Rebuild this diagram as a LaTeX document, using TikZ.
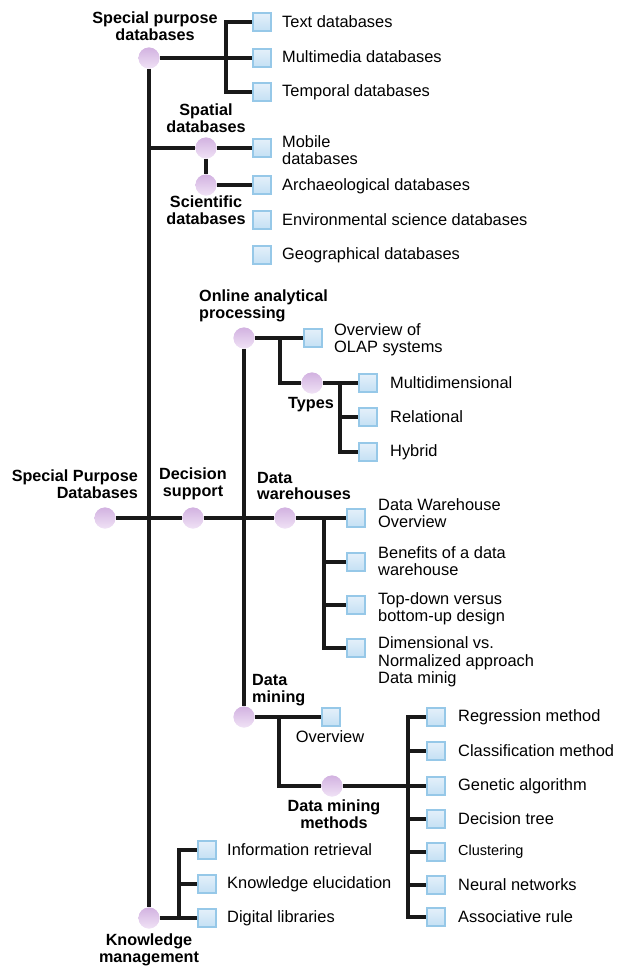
\documentclass[tikz,border=0pt]{standalone}
\usepackage{fontspec}
\setmainfont{Liberation Sans}
\begin{document}
\begin{tikzpicture}[x=1pt,y=-1pt,
  wire/.style={line width=3.2pt,black!90},
  hub/.style={circle,minimum size=21pt,inner sep=0pt,
    top color={rgb,255:red,210;green,178;blue,224},
    bottom color={rgb,255:red,240;green,226;blue,246}},
  leaf/.style={rectangle,minimum size=18pt,inner sep=0pt,
    draw={rgb,255:red,150;green,200;blue,232},line width=1.6pt,
    top color={rgb,255:red,228;green,240;blue,250},
    bottom color={rgb,255:red,196;green,224;blue,244}},
  txt/.style={anchor=west,inner sep=0pt,align=left,
    font=\fontsize{16.4}{17.3}\selectfont},
  lbl/.style={inner sep=0pt,align=center,
    font=\fontsize{16.2}{16.5}\selectfont\bfseries},
]
\useasboundingbox (0,0) rectangle (623,970);

% ---- hubs ----
\node[hub] (root) at (105,518) {};
\node[hub] (dec)  at (193,518) {};
\node[hub] (dw)   at (285,518) {};
\node[hub] (sp)   at (149,58) {};
\node[hub] (spa)  at (206,148) {};
\node[hub] (sci)  at (206,185) {};
\node[hub] (olap) at (244,338) {};
\node[hub] (typ)  at (312,383) {};
\node[hub] (dm)   at (244,717) {};
\node[hub] (dmm)  at (332,786) {};
\node[hub] (km)   at (149,918) {};

% ---- junction points ----
\coordinate (spT) at (226,22);
\coordinate (spB) at (226,92);
\coordinate (jSp) at (149,148);
\coordinate (olT) at (280,338);
\coordinate (olB) at (280,383);
\coordinate (tyT) at (340,383);
\coordinate (tyB) at (340,452);
\coordinate (dwT) at (324,518);
\coordinate (dwB) at (324,648);
\coordinate (dmT) at (279,717);
\coordinate (dmB) at (279,786);
\coordinate (mT) at (408,717);
\coordinate (mB) at (408,917);
\coordinate (kT) at (179,850);
\coordinate (kB) at (179,918);

% ---- leaves ----
\node[leaf] (s1) at (262,22) {};
\node[leaf] (s2) at (262,58) {};
\node[leaf] (s3) at (262,92) {};
\node[leaf] (s4) at (262,148) {};
\node[leaf] (s5) at (262,185) {};
\node[leaf] (s6) at (262,220) {};
\node[leaf] (s7) at (262,255) {};
\node[leaf] (o1) at (313,338) {};
\node[leaf] (t1) at (368,383) {};
\node[leaf] (t2) at (368,417) {};
\node[leaf] (t3) at (368,452) {};
\node[leaf] (w1) at (356,518) {};
\node[leaf] (w2) at (356,562) {};
\node[leaf] (w3) at (356,605) {};
\node[leaf] (w4) at (356,648) {};
\node[leaf] (d1) at (331,717) {};
\node[leaf] (m1) at (436,717) {};
\node[leaf] (m2) at (436,751) {};
\node[leaf] (m3) at (436,786) {};
\node[leaf] (m4) at (436,819) {};
\node[leaf] (m5) at (436,852) {};
\node[leaf] (m6) at (436,885) {};
\node[leaf] (m7) at (436,917) {};
\node[leaf] (k1) at (207,850) {};
\node[leaf] (k2) at (207,884) {};
\node[leaf] (k3) at (207,918) {};

% ---- connectors ----
\draw[wire] (root) -- (dec) -- (dw) -- (dwT);
\draw[wire] (sp) -- (km);
\draw[wire] (olap) -- (dm);
\draw[wire] (sp) -- (s2);
\draw[wire] (s1) -- (spT) -- (spB) -- (s3);
\draw[wire] (jSp) -- (spa) -- (s4);
\draw[wire] (spa) -- (sci);
\draw[wire] (sci) -- (s5);
\draw[wire] (olap) -- (o1);
\draw[wire] (olT) -- (olB) -- (typ) -- (t1);
\draw[wire] (tyT) -- (tyB) -- (t3);
\draw[wire] (tyT |- t2) -- (t2);
\draw[wire] (dwT) -- (w1);
\draw[wire] (dwT) -- (dwB) -- (w4);
\draw[wire] (dwT |- w2) -- (w2);
\draw[wire] (dwT |- w3) -- (w3);
\draw[wire] (dm) -- (d1);
\draw[wire] (dmT) -- (dmB) -- (dmm) -- (m3);
\draw[wire] (m1) -- (mT) -- (mB) -- (m7);
\foreach \m in {m2,m4,m5,m6} \draw[wire] (mT |- \m) -- (\m);
\draw[wire] (km) -- (k3);
\draw[wire] (k1) -- (kT) -- (kB);
\draw[wire] (kT |- k2) -- (k2);

% hubs and leaves drawn again on top of the wires
\foreach \h in {root,dec,dw,sp,spa,sci,olap,typ,dm,dmm,km}
  \node[hub] at (\h) {};
\foreach \l in {s1,s2,s3,s4,s5,s6,s7,o1,t1,t2,t3,w1,w2,w3,w4,d1,m1,m2,m3,m4,m5,m6,m7,k1,k2,k3}
  \node[leaf] at (\l) {};

% ---- hub labels ----
\node[lbl] at (155,26) {Special purpose\\databases};
\node[lbl] at (206,118) {Spatial\\databases};
\node[lbl] at (206,210) {Scientific\\databases};
\node[lbl,anchor=west,align=left] at (199,306) {Online analytical\\processing};
\node[lbl] at (311,405) {Types};
\node[lbl,anchor=east,align=right] at (138,484) {Special Purpose\\Databases};
\node[lbl] at (193,484) {Decision\\support};
\node[lbl,anchor=west,align=left] at (257,486) {Data\\warehouses};
\node[lbl,anchor=west,align=left] at (252,690) {Data\\mining};
\node[lbl] at (334,814) {Data mining\\methods};
\node[lbl] at (149,950) {Knowledge\\management};

% ---- leaf texts ----
\node[txt] at (282,22) {Text databases};
\node[txt] at (282,57) {Multimedia databases};
\node[txt] at (282,92) {Temporal databases};
\node[txt] at (282,150) {Mobile\\databases};
\node[txt] at (282,186) {Archaeological databases};
\node[txt] at (282,220) {Environmental science databases};
\node[txt] at (282,255) {Geographical databases};
\node[txt] at (334,340) {Overview of\\OLAP systems};
\node[txt] at (390,383) {Multidimensional};
\node[txt] at (390,417) {Relational};
\node[txt] at (390,452) {Hybrid};
\node[txt] at (378,513) {Data Warehouse\\Overview};
\node[txt] at (378,561) {Benefits of a data\\warehouse};
\node[txt] at (378,609) {Top-down versus\\bottom-up design};
\node[txt] at (378,662) {Dimensional vs.\\Normalized approach\\Data minig};
\node[txt,anchor=center] at (330,737) {Overview};
\node[txt] at (458,717) {Regression method};
\node[txt] at (458,751) {Classification method};
\node[txt] at (458,786) {Genetic algorithm};
\node[txt] at (458,819) {Decision tree};
\node[txt,font=\fontsize{14.5}{16}\selectfont] at (458,852) {Clustering};
\node[txt] at (458,885) {Neural networks};
\node[txt] at (458,917) {Associative rule};
\node[txt] at (227,850) {Information retrieval};
\node[txt] at (227,884) {Knowledge elucidation};
\node[txt] at (227,918) {Digital libraries};
\end{tikzpicture}
\end{document}
